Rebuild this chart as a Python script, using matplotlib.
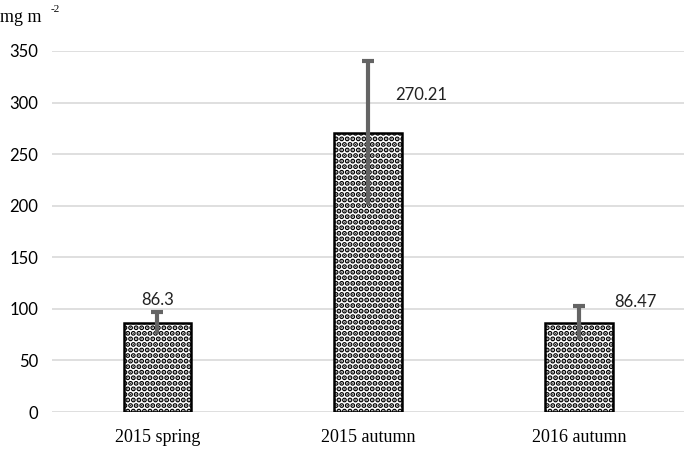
import numpy as np
import matplotlib.pyplot as plt

categories = ["2015 spring", "2015 autumn", "2016 autumn"]
values = [86.3, 270.21, 86.47]
errors = [11, 70, 16]
labels = ["86.3", "270.21", "86.47"]

plt.rcParams['hatch.linewidth'] = 2.6

fig = plt.figure(figsize=(6.85, 4.53), dpi=100)
ax = fig.add_axes([0.076, 0.0905, 0.923, 0.797])

x = np.arange(len(categories))
ax.bar(x, values, width=0.32, color="white", edgecolor="black", linewidth=1.8,
       hatch="...", zorder=2)
ax.errorbar(x, values, yerr=errors, fmt="none", ecolor="#646464", elinewidth=3,
            capsize=0, zorder=3)
ax.plot(x, np.array(values) + np.array(errors), linestyle="none", marker="_",
        markersize=9, markeredgewidth=3, color="#646464", zorder=3)

label_pos = [(0, 109), (0.25, 307), (0.27, 107)]
for (dx, y), xi, lab in zip(label_pos, x, labels):
    ax.text(xi + dx, y, lab, ha="center", va="center", fontsize=12,
            family="Lato", color="#222222")

ax.set_xlim(-0.5, 2.5)
ax.set_ylim(0, 350)
ax.set_yticks(range(0, 351, 50))
ax.set_xticks(x)
ax.set_xticklabels(categories, family="Liberation Serif", fontsize=13)
for t in ax.get_yticklabels():
    t.set_family("Lato")
    t.set_fontsize(12)
ax.tick_params(axis="y", length=0, pad=10)
ax.tick_params(axis="x", length=0, pad=12)
ax.grid(axis="y", color="#d9d9d9", linewidth=1.2, zorder=0)
for s in ax.spines.values():
    s.set_visible(False)

fig.text(0.0, 0.962, "mg m", family="Liberation Serif", fontsize=13,
         ha="left", va="center")
fig.text(0.074, 0.98, "-2", family="Liberation Serif", fontsize=8,
         ha="left", va="center")

plt.savefig("out.png", dpi=100)
plt.close()
